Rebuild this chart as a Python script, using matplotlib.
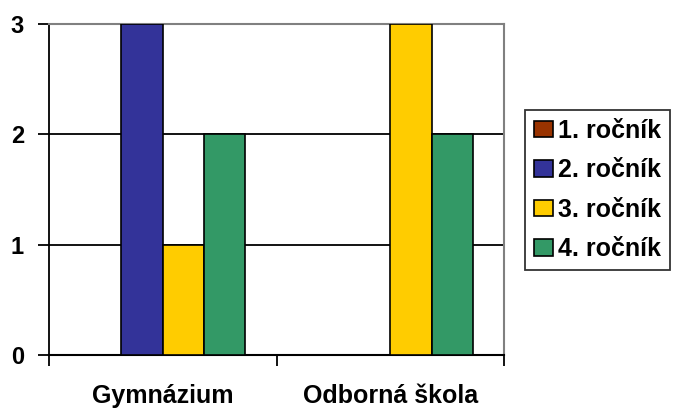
import matplotlib
matplotlib.use("Agg")
import matplotlib.pyplot as plt
import numpy as np

categories = ["Gymnázium", "Odborná škola"]
series_names = ["1. ročník", "2. ročník", "3. ročník", "4. ročník"]
values_1 = [0, 0]
values_2 = [3, 0]
values_3 = [1, 3]
values_4 = [2, 2]
colors = ["#993300", "#333399", "#FFCC00", "#339966"]
yticks = [0, 1, 2, 3]

plt.rcParams['font.family'] = ['Liberation Sans', 'DejaVu Sans']
plt.rcParams['font.weight'] = 'bold'

W, H = 674, 409
fig = plt.figure(figsize=(W / 100, H / 100), dpi=100)
left, right, top, bottom = 49, 504, 24, 355
ax = fig.add_axes([left / W, (H - bottom) / H, (right - left) / W, (bottom - top) / H])

all_vals = [values_1, values_2, values_3, values_4]
x = np.arange(len(categories))
w = 1 / 5.5
for i, (vals, c, name) in enumerate(zip(all_vals, colors, series_names)):
    ax.bar(x + (i - 1.5) * w, vals, width=w, color=c, edgecolor="black",
           linewidth=1.2, label=name, zorder=3)

ax.set_xlim(-0.5, 1.5)
ax.set_ylim(0, 3)
ax.set_yticks(yticks)
ax.set_yticklabels([str(t) for t in yticks], fontsize=17, fontweight='bold')
for y in [1, 2]:
    ax.axhline(y, color="black", linewidth=1.3, zorder=1)

ax.set_xticks([-0.5, 0.5, 1.5], minor=False)
ax.set_xticklabels([])
ax.set_xticks([0, 1], minor=True)
ax.set_xticklabels(categories, minor=True, fontsize=18, fontweight='bold')
ax.tick_params(axis='x', which='major', length=8, width=1.3, direction='out')
ax.tick_params(axis='x', which='minor', length=0, pad=21)
ax.tick_params(axis='y', length=8, width=1.3, direction='out', pad=10)

ax.spines['left'].set_color('black')
ax.spines['left'].set_linewidth(1.3)
ax.spines['bottom'].set_color('black')
ax.spines['bottom'].set_linewidth(1.5)
ax.spines['top'].set_color('#808080')
ax.spines['top'].set_linewidth(1.5)
ax.spines['right'].set_color('#808080')
ax.spines['right'].set_linewidth(1.5)

leg = fig.legend(loc='center left', bbox_to_anchor=(525 / W, 1 - 190 / H),
                 prop={'size': 18, 'weight': 'bold'}, frameon=True, fancybox=False,
                 edgecolor='black', handlelength=0.75, handleheight=0.65,
                 handletextpad=0.22, borderpad=0.35, labelspacing=0.62,
                 borderaxespad=0)
leg.get_frame().set_linewidth(1.3)

fig.savefig("out.png", dpi=100)
